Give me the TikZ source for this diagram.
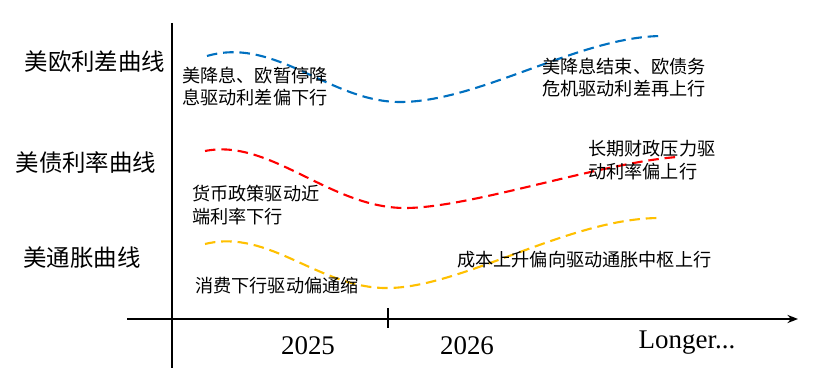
\documentclass[tikz,border=0pt]{standalone}
\usepackage{fontspec}
\newfontfamily\cjk{Noto Sans CJK SC}
\newfontfamily\yrfont{Liberation Serif}
\usepackage{tikz}
\usetikzlibrary{positioning,calc,arrows.meta}
\definecolor{eublue}{HTML}{0070C0}
\definecolor{infyellow}{HTML}{FFC000}
\tikzstyle{axisline}=[line width=1.3pt, black]
\tikzstyle{dashcurve}=[line width=1.8pt, dash pattern=on 9pt off 5pt]
\tikzstyle{curvelbl}=[inner sep=0pt, font=\cjk\fontsize{20}{24}\selectfont]
\tikzstyle{notetxt}=[inner sep=0pt, align=left, anchor=west, font=\cjk\fontsize{15.5}{19.5}\selectfont]
\tikzstyle{yearlbl}=[inner sep=0pt, font=\yrfont\fontsize{23}{26}\selectfont]

\begin{document}
\begin{tikzpicture}[x=0.03cm, y=-0.03cm]
				\useasboundingbox (0,0) rectangle (832,368);
				
				% axes
				\coordinate (ytop) at (172, 23);
				\coordinate (ybot) at (172, 368);
				\coordinate (xl) at (127, 319);
				\coordinate (xr) at (798, 319);
				\coordinate (tk1) at (388, 308);
				\coordinate (tk2) at (388, 328);
				\draw[axisline] (ytop) -- (ybot);
				\draw[axisline, -{Stealth[length=9pt, width=7pt]}] (xl) -- (xr);
				\draw[axisline] (tk1) -- (tk2);
				
				% curve names
				\node[curvelbl] (spread) at (95, 62) {美欧利差曲线};
				\node[curvelbl] (yield) at (86, 163) {美债利率曲线};
				\node[curvelbl] (infl) at (82, 258) {美通胀曲线};
				
				% years
				\node[yearlbl] (y25) at (308, 346) {2025};
				\node[yearlbl] (y26) at (467, 346) {2026};
				\node[yearlbl] (ylong) at (687, 343) {Longer...};
				
				% curves
				\draw[dashcurve, eublue] (207, 56) .. controls (275, 36) and (330, 102) .. (400, 102)
					.. controls (480, 102) and (580, 36) .. (663, 36);
				\draw[dashcurve, red] (205, 151) .. controls (270, 138) and (330, 208) .. (405, 208)
					.. controls (470, 208) and (600, 163) .. (677, 157);
				\draw[dashcurve, infyellow] (205, 244) .. controls (270, 228) and (320, 290) .. (390, 288)
					.. controls (465, 286) and (570, 218) .. (660, 218);
				
				% notes
				\node[notetxt] (n1) at (182, 86.5) {美降息、欧暂停降\\息驱动利差偏下行};
				\node[notetxt] (n2) at (542, 77.5) {美降息结束、欧债务\\危机驱动利差再上行};
				\node[notetxt] (n3) at (588, 160.5) {长期财政压力驱\\动利率偏上行};
				\node[notetxt] (n4) at (192, 205.5) {货币政策驱动近\\端利率下行};
				\node[notetxt] (n5) at (195, 286) {消费下行驱动偏通缩};
				\node[notetxt] (n6) at (457, 260) {成本上升偏向驱动通胀中枢上行};
			\end{tikzpicture}
\end{document}
